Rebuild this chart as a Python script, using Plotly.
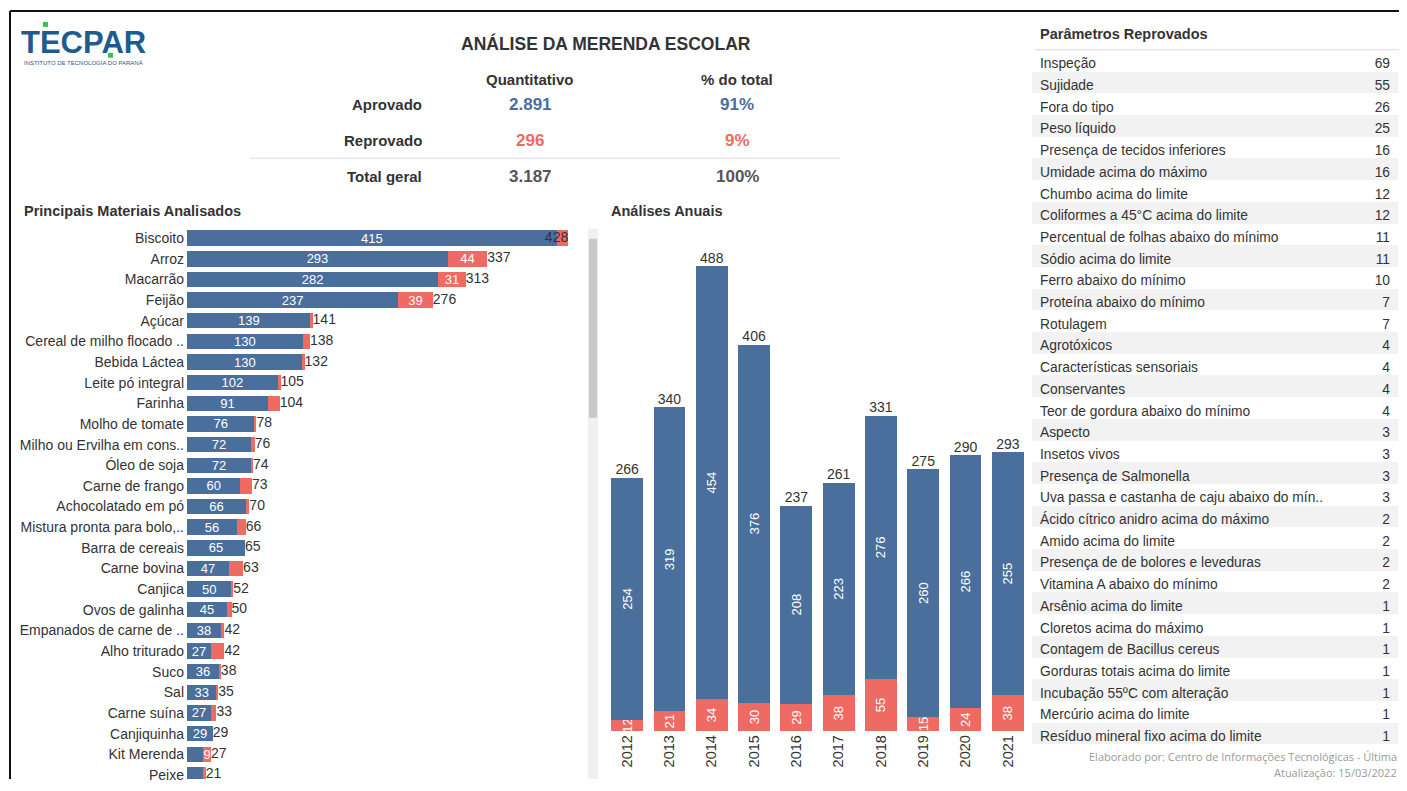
import plotly.graph_objects as go

# The page body keeps its default 8px margin; the figure fills the rest of the 1407x791 page.
OFF = 8
W, H = 1407 - 2 * OFF, 791 - 2 * OFF

# ---------------- data ----------------
materials = ["Biscoito", "Arroz", "Macarrão", "Feijão", "Açúcar", "Cereal de milho flocado ..",
             "Bebida Láctea", "Leite pó integral", "Farinha", "Molho de tomate",
             "Milho ou Ervilha em cons..", "Óleo de soja", "Carne de frango", "Achocolatado em pó",
             "Mistura pronta para bolo,..", "Barra de cereais", "Carne bovina", "Canjica",
             "Ovos de galinha", "Empanados de carne de ..", "Alho triturado", "Suco", "Sal",
             "Carne suína", "Canjiquinha", "Kit Merenda", "Peixe"]
mat_aprov = [415, 293, 282, 237, 139, 130, 130, 102, 91, 76, 72, 72, 60, 66, 56, 65, 47, 50, 45,
             38, 27, 36, 33, 27, 29, 18, 19]
mat_reprov = [13, 44, 31, 39, 2, 8, 2, 3, 13, 2, 4, 2, 13, 4, 10, 0, 16, 2, 5, 4, 15, 2, 2, 6,
              0, 9, 2]

years = ["2012", "2013", "2014", "2015", "2016", "2017", "2018", "2019", "2020", "2021"]
year_aprov = [254, 319, 454, 376, 208, 223, 276, 260, 266, 255]
year_reprov = [12, 21, 34, 30, 29, 38, 55, 15, 24, 38]

params = ["Inspeção", "Sujidade", "Fora do tipo", "Peso líquido", "Presença de tecidos inferiores",
          "Umidade acima do máximo", "Chumbo acima do limite", "Coliformes a 45°C acima do limite",
          "Percentual de folhas abaixo do mínimo", "Sódio acima do limite", "Ferro abaixo do mínimo",
          "Proteína abaixo do mínimo", "Rotulagem", "Agrotóxicos", "Características sensoriais",
          "Conservantes", "Teor de gordura abaixo do mínimo", "Aspecto", "Insetos vivos",
          "Presença de Salmonella", "Uva passa e castanha de caju abaixo do mín..",
          "Ácido cítrico anidro acima do máximo", "Amido acima do limite",
          "Presença de de bolores e leveduras", "Vitamina A abaixo do mínimo",
          "Arsênio acima do limite", "Cloretos acima do máximo", "Contagem de Bacillus cereus",
          "Gorduras totais acima do limite", "Incubação 55ºC com alteração",
          "Mercúrio acima do limite", "Resíduo mineral fixo acima do limite"]
param_counts = [69, 55, 26, 25, 16, 16, 12, 12, 11, 11, 10, 7, 7, 4, 4, 4, 4, 3, 3, 3, 3, 2, 2,
                2, 2, 1, 1, 1, 1, 1, 1, 1]

kpi_rows = ["Aprovado", "Reprovado", "Total geral"]
kpi_quant = ["2.891", "296", "3.187"]
kpi_pct = ["91%", "9%", "100%"]

# ---------------- style ----------------
BLUE = "#4a6f9d"
RED = "#ee6a62"
TXT = "#333333"
FONT = "Liberation Sans"


def px(x):
    return min(max((x - OFF) / W, 0.0), 1.0)


def py(y):
    return min(max(1 - (y - OFF) / H, 0.0), 1.0)


mat_total = [a + r for a, r in zip(mat_aprov, mat_reprov)]
year_total = [a + r for a, r in zip(year_aprov, year_reprov)]

fig = go.Figure()

# ---- Principais Materiais Analisados ----
fig.add_trace(go.Bar(
    orientation="h", y=materials, x=mat_aprov, marker=dict(color=BLUE, line=dict(width=0)),
    text=[str(v) if v >= 20 else "" for v in mat_aprov], textposition="inside",
    insidetextanchor="middle", textangle=0,
    textfont=dict(color="white", size=13, family=FONT),
    xaxis="x", yaxis="y", hoverinfo="skip", showlegend=False))
fig.add_trace(go.Bar(
    orientation="h", y=materials, x=mat_reprov, marker=dict(color=RED, line=dict(width=0)),
    text=[str(v) if (v >= 30 or (v >= 9 and a < 20)) else "" for v, a in zip(mat_reprov, mat_aprov)],
    textposition="inside", insidetextanchor="middle", textangle=0,
    textfont=dict(color="white", size=13, family=FONT),
    xaxis="x", yaxis="y", hoverinfo="skip", showlegend=False))
fig.add_trace(go.Scatter(
    y=materials, x=mat_total, mode="text", text=[str(v) for v in mat_total],
    textposition=["middle left"] + ["middle right"] * (len(materials) - 1),
    textfont=dict(color=TXT, size=14, family=FONT), cliponaxis=False,
    xaxis="x", yaxis="y", hoverinfo="skip", showlegend=False))

# ---- Análises Anuais ----
fig.add_trace(go.Bar(
    x=years, y=year_reprov, marker=dict(color=RED, line=dict(width=0)),
    text=[str(v) for v in year_reprov], textposition="inside", insidetextanchor="middle",
    textangle=-90, textfont=dict(color="white", size=13, family=FONT),
    xaxis="x2", yaxis="y2", hoverinfo="skip", showlegend=False))
fig.add_trace(go.Bar(
    x=years, y=year_aprov, marker=dict(color=BLUE, line=dict(width=0)),
    text=[str(v) for v in year_aprov], textposition="inside", insidetextanchor="middle",
    textangle=-90, textfont=dict(color="white", size=13, family=FONT),
    xaxis="x2", yaxis="y2", hoverinfo="skip", showlegend=False))
fig.add_trace(go.Scatter(
    x=years, y=year_total, mode="text", text=[str(v) for v in year_total],
    textposition="top center", textfont=dict(color=TXT, size=14, family=FONT),
    cliponaxis=False, xaxis="x2", yaxis="y2", hoverinfo="skip", showlegend=False))

# ---- Parâmetros Reprovados table ----
row_fills = ["#ffffff" if i % 2 == 0 else "#f2f2f2" for i in range(len(params))]
fig.add_trace(go.Table(
    domain=dict(x=[px(1032), 1.0], y=[py(748), py(18)]),
    columnwidth=[330, 36],
    header=dict(values=["<b>Parâmetros Reprovados</b>", ""], align=["left", "right"],
                fill_color="white", line=dict(color="white", width=0),
                font=dict(size=14.5, color=TXT, family=FONT), height=32),
    cells=dict(values=[params, param_counts], align=["left", "right"],
               fill_color=[row_fills, row_fills],
               line=dict(color=[row_fills, row_fills], width=0),
               font=dict(size=13.8, color=TXT, family=FONT), height=21.7)))

# left chart row geometry: first row centred ~239px, 20.75px per row, cut at the page bottom
ROW_TOP = 229
ROW_PITCH = 20.75
row_bottom_range = -0.5 + ((H + OFF) - ROW_TOP) / ROW_PITCH

axis_off = dict(showgrid=False, zeroline=False, showline=False, ticks="")
fig.update_layout(
    width=W, height=H, margin=dict(l=0, r=0, t=0, b=0),
    paper_bgcolor="white", plot_bgcolor="white",
    barmode="stack", bargap=0.25,
    font=dict(family=FONT, color=TXT),
    uniformtext=dict(minsize=13, mode="show"),
    xaxis=dict(domain=[px(187), px(570)], range=[0, 430], showticklabels=False, **axis_off),
    yaxis=dict(domain=[0, py(ROW_TOP)], categoryorder="array", categoryarray=materials,
               range=[row_bottom_range, -0.5], tickfont=dict(size=14, color=TXT, family=FONT),
               ticklabelstandoff=2, **axis_off),
    xaxis2=dict(domain=[px(606), px(1029)], anchor="y2", tickangle=-90,
                tickfont=dict(size=14.5, color=TXT, family=FONT), **axis_off),
    yaxis2=dict(domain=[py(735), py(240)], anchor="x2", range=[0, 517],
                showticklabels=False, **axis_off),
)

ann = []


def add_text(x, y, text, size=14, color=TXT, bold=False, xanchor="center", family=FONT):
    ann.append(dict(x=px(x), y=py(y), xref="paper", yref="paper", showarrow=False,
                    text=f"<b>{text}</b>" if bold else text, xanchor=xanchor, yanchor="middle",
                    font=dict(size=size, color=color, family=family)))


# Logo
add_text(19, 43, "TECPAR", size=31, color="#1f5c8e", bold=True, xanchor="left")
add_text(22, 63, "INSTITUTO DE TECNOLOGIA DO PARANÁ", size=6, color="#1f5c8e", xanchor="left")

# KPI table
add_text(606, 44, "ANÁLISE DA MERENDA ESCOLAR", size=17.5, bold=True)
add_text(530, 80, "Quantitativo", size=15, bold=True)
add_text(737, 80, "% do total", size=15, bold=True)
kpi_colors = [BLUE, RED, "#555555"]
for i, (lab, q, p) in enumerate(zip(kpi_rows, kpi_quant, kpi_pct)):
    yy = 105 + 36 * i
    add_text(424, yy, lab, size=15, bold=True, xanchor="right")
    add_text(530, yy, q, size=17, bold=True, color=kpi_colors[i])
    add_text(737, yy, p, size=17, bold=True, color=kpi_colors[i])

# Section titles
add_text(22, 212, "Principais Materiais Analisados", size=14.5, bold=True, xanchor="left")
add_text(609, 212, "Análises Anuais", size=14.5, bold=True, xanchor="left")

# Footer
add_text(1399, 760, "Elaborado por: Centro de Informações Tecnológicas - Última", size=11,
         color="#9a9a9a", xanchor="right", family="Open Sans")
add_text(1399, 776, "Atualização: 15/03/2022", size=11, color="#9a9a9a", xanchor="right",
         family="Open Sans")

shapes = [
    dict(type="line", xref="paper", yref="paper", x0=px(10), x1=1, y0=py(11), y1=py(11),
         line=dict(color="#111111", width=2)),
    dict(type="line", xref="paper", yref="paper", x0=px(10), x1=px(10), y0=py(11), y1=0,
         line=dict(color="#111111", width=2)),
    dict(type="line", xref="paper", yref="paper", x0=px(250), x1=px(840), y0=py(159), y1=py(159),
         line=dict(color="#dddddd", width=1)),
    dict(type="line", xref="paper", yref="paper", x0=px(1035), x1=1, y0=py(50), y1=py(50),
         line=dict(color="#dddddd", width=1)),
    # scrollbar
    dict(type="rect", xref="paper", yref="paper", x0=px(588), x1=px(598), y0=0, y1=py(230),
         fillcolor="#f0f0f0", line=dict(width=0)),
    dict(type="rect", xref="paper", yref="paper", x0=px(589), x1=px(597), y0=py(420), y1=py(240),
         fillcolor="#c8c8c8", line=dict(width=0)),
    # logo green squares
    dict(type="rect", xref="paper", yref="paper", x0=px(43), x1=px(48), y0=py(27), y1=py(22),
         fillcolor="#3cc14a", line=dict(width=0)),
    dict(type="rect", xref="paper", yref="paper", x0=px(108), x1=px(113), y0=py(58), y1=py(53),
         fillcolor="#3cc14a", line=dict(width=0)),
]

fig.update_layout(annotations=ann, shapes=shapes)
fig.write_html("out.html")
